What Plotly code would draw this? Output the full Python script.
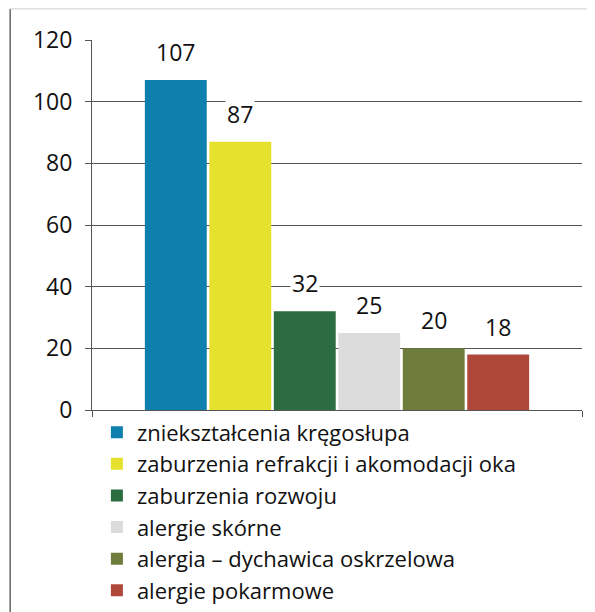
import plotly.graph_objects as go

categories = [
    "zniekształcenia kręgosłupa",
    "zaburzenia refrakcji i akomodacji oka",
    "zaburzenia rozwoju",
    "alergie skórne",
    "alergia – dychawica oskrzelowa",
    "alergie pokarmowe",
]
values = [107, 87, 32, 25, 20, 18]
colors = ["#0f7fae", "#e6e12c", "#2b6d40", "#dcdcdc", "#6e7d3c", "#b0483a"]
y_ticks = [0, 20, 40, 60, 80, 100, 120]

FONT = "Open Sans"
# page body adds 8px margin, so the figure is a bit smaller than the window
W, H = 587, 604

x_lo, x_hi = -1.3, 6.3  # room left/right of the bar block

fig = go.Figure()
for i, (name, val, col) in enumerate(zip(categories, values, colors)):
    fig.add_trace(go.Bar(
        x=[i], y=[val], name=name,
        marker=dict(color=col, line=dict(width=0)),
    ))
    # value label with white box, like the original (hides the gridline)
    fig.add_annotation(
        x=i, y=val, text=str(val), showarrow=False,
        yanchor="middle", yshift=28,
        font=dict(family=FONT, size=23, color="#111"),
        bgcolor="white", borderpad=1,
    )

fig.update_layout(
    width=W, height=H,
    margin=dict(l=84, r=13, t=32, b=202, autoexpand=False),
    paper_bgcolor="white", plot_bgcolor="white",
    bargap=0.04,
    font=dict(family=FONT, size=22, color="#111"),
    showlegend=True,
    legend=dict(
        xref="paper", yref="container",
        x=0.01, y=0.332, xanchor="left", yanchor="top",
        font=dict(family=FONT, size=22, color="#111"),
        traceorder="normal", itemwidth=30, tracegroupgap=0,
        bgcolor="rgba(0,0,0,0)",
    ),
    xaxis=dict(
        type="linear", range=[x_lo, x_hi],
        tickvals=[x_lo, x_hi], showticklabels=False, showgrid=False,
        showline=True, linecolor="#555", linewidth=1, zeroline=False,
        ticks="outside", ticklen=6, tickcolor="#555",
    ),
    yaxis=dict(
        range=[0, 120], tickvals=y_ticks,
        showgrid=True, gridcolor="#555", gridwidth=1,
        showline=True, linecolor="#555", linewidth=1,
        ticks="outside", ticklen=6, tickcolor="#555",
        tickfont=dict(family=FONT, size=23, color="#111"),
        ticklabelstandoff=8, zeroline=False,
    ),
    shapes=[
        dict(type="line", xref="paper", yref="paper",
             x0=-0.167, x1=-0.167, y0=1.084, y1=-0.6,
             line=dict(color="#666", width=1.5)),
        dict(type="line", xref="paper", yref="paper",
             x0=-0.167, x1=1.03, y0=1.084, y1=1.084,
             line=dict(color="#ccc", width=1)),
    ],
)

fig.write_html("out.html")
